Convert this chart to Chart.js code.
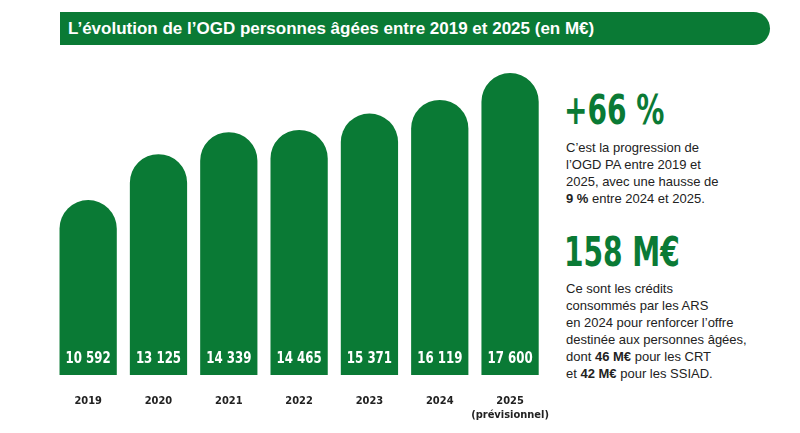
<!DOCTYPE html>
<html><head><meta charset="utf-8">
<script src="https://cdn.jsdelivr.net/npm/chart.js@4"></script>
<style>
body{margin:0;width:800px;height:433px;background:#fff;position:relative;overflow:hidden;font-family:"Liberation Sans",Arial,sans-serif}
#title{position:absolute;left:60px;top:12px;width:710px;height:33px;background:#0a7a35;border-radius:0 17px 17px 0;color:#fff;font-weight:bold;font-size:17px;line-height:33px;padding-left:8px;box-sizing:border-box}
#wrap{position:absolute;left:53px;top:0;width:508px;height:433px}
.big{position:absolute;left:564px;color:#0a7a35;font-family:"DejaVu Sans Condensed",sans-serif;font-weight:bold;font-size:40px;line-height:44px;transform:scaleX(0.78);transform-origin:left}
.p{position:absolute;left:566px;font-size:13px;line-height:17px;color:#222}
</style></head><body>
<div id="title">L’évolution de l’OGD personnes âgées entre 2019 et 2025 (en M€)</div>
<div id="wrap"><canvas id="c"></canvas></div>
<div class="big" style="top:88px">+66 %</div>
<div class="p" style="top:139px">C’est la progression de<br>l’OGD PA entre 2019 et<br>2025, avec une hausse de<br><b>9 %</b> entre 2024 et 2025.</div>
<div class="big" style="top:230px">158 M€</div>
<div class="p" style="top:280px">Ce sont les crédits<br>consommés par les ARS<br>en 2024 pour renforcer l’offre<br>destinée aux personnes âgées,<br>dont <b>46 M€</b> pour les CRT<br>et <b>42 M€</b> pour les SSIAD.</div>
<script>
const years=['2019','2020','2021','2022','2023','2024',['2025','(prévisionnel)']];
const values=[10592,13125,14339,14465,15371,16119,17600];
const valueLabels=['10 592','13 125','14 339','14 465','15 371','16 119','17 600'];
const green='#0a7a35';
const labelsPlugin={id:'lbl',afterDatasetsDraw(ch){const ctx=ch.ctx;const m=ch.getDatasetMeta(0);ctx.save();ctx.fillStyle='#fff';ctx.font='bold 16px "DejaVu Sans Condensed",sans-serif';ctx.textAlign='center';ctx.textBaseline='middle';m.data.forEach((b,i)=>{ctx.save();ctx.translate(b.x,359);ctx.scale(0.82,1);ctx.fillText(valueLabels[i],0,0);ctx.restore();});ctx.restore();}};
new Chart(document.getElementById('c'),{type:'bar',
data:{labels:years,datasets:[{data:values,backgroundColor:green,borderRadius:{topLeft:29,topRight:29,bottomLeft:0,bottomRight:0},borderSkipped:'bottom',barPercentage:57/70,categoryPercentage:1}]},
options:{responsive:true,maintainAspectRatio:false,animation:false,layout:{padding:0},
plugins:{legend:{display:false},tooltip:{enabled:false}},
scales:{y:{display:false,min:938,max:21633},
x:{grid:{display:false},border:{display:false},afterFit(s){s.height=58;},ticks:{padding:12,maxRotation:0,minRotation:0,autoSkip:false,color:'#222',font:{size:11,weight:'bold',family:'"DejaVu Sans Condensed",sans-serif'}}}}},
plugins:[labelsPlugin]});
</script></body></html>
